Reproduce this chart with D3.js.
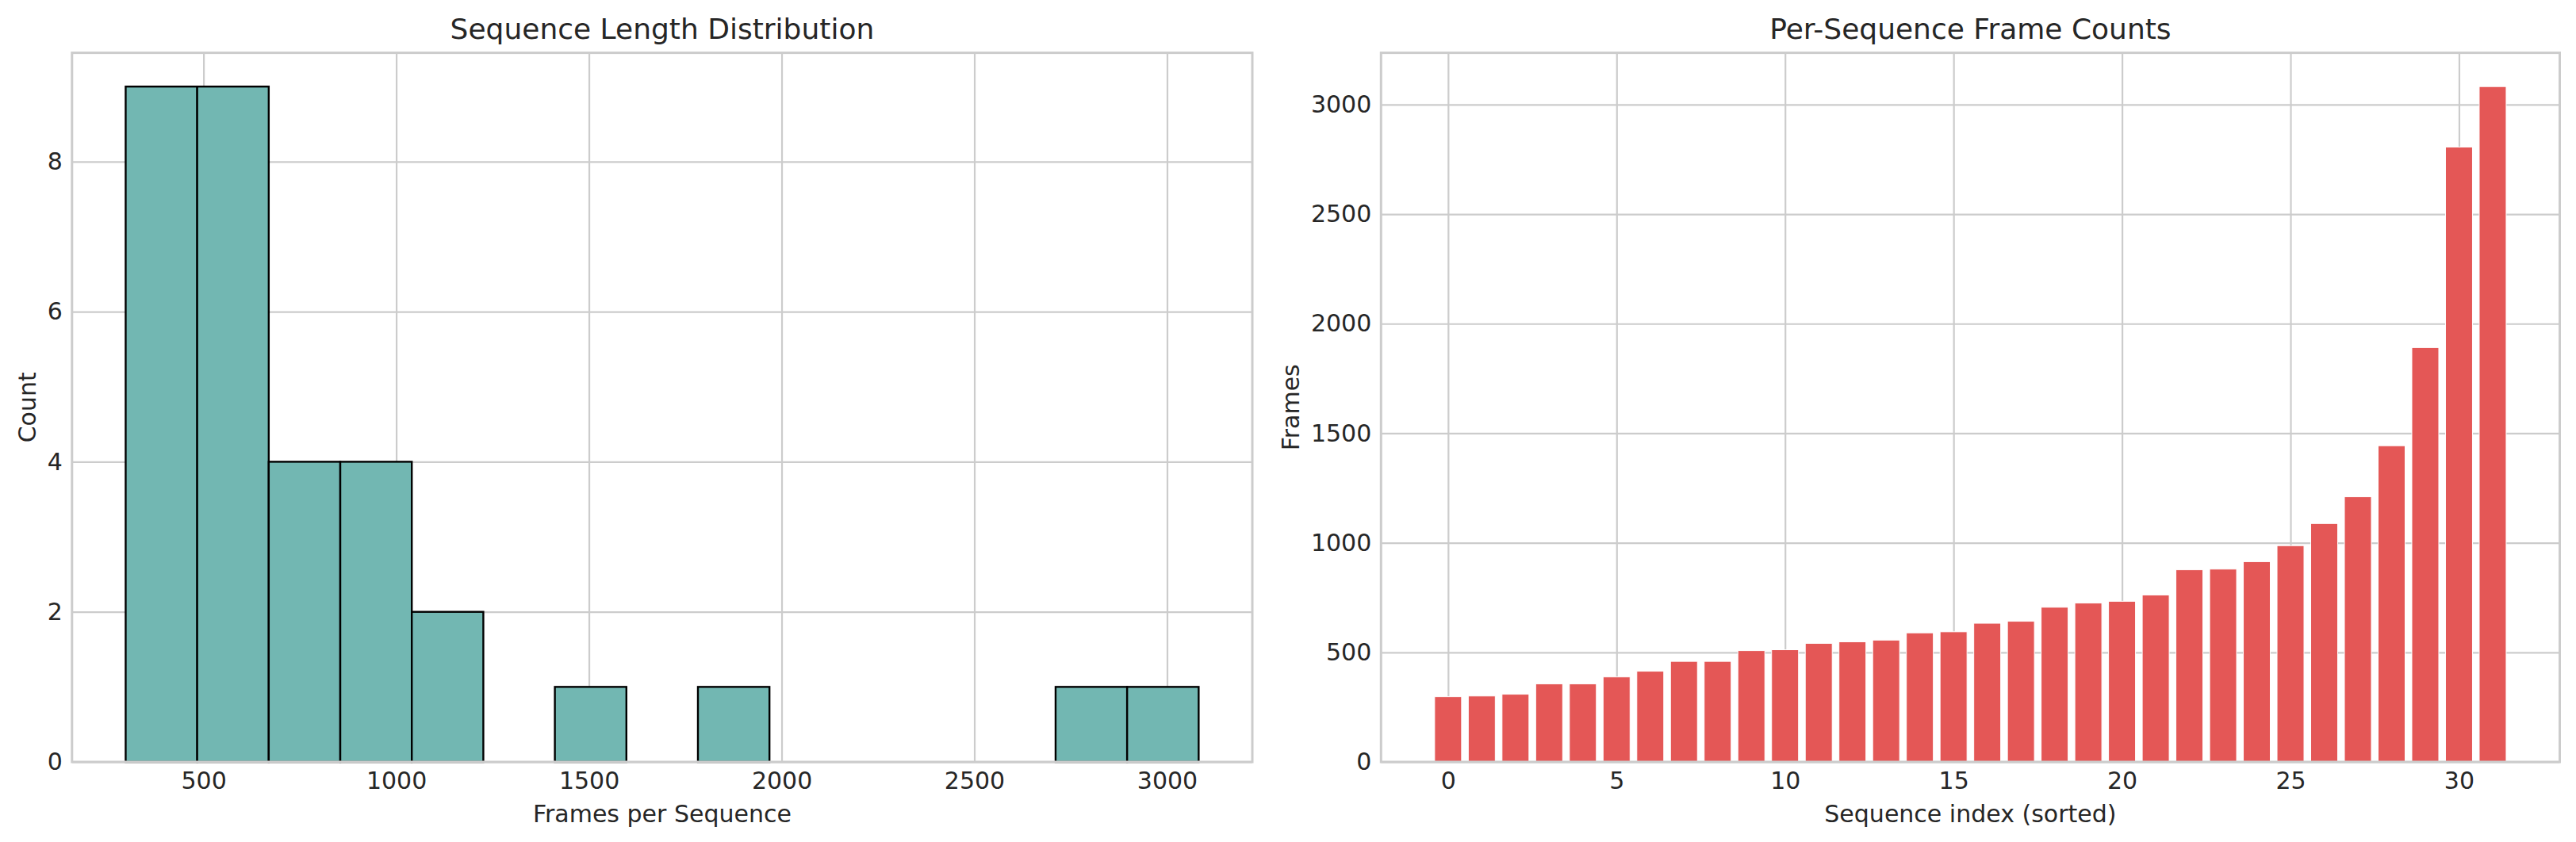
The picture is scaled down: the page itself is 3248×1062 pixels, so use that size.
<!DOCTYPE html>
<html>
<head>
<meta charset="utf-8">
<script src="https://cdn.jsdelivr.net/npm/d3@7"></script>
<style>
  body { margin: 0; background: #fff; }
  text { font-family: "DejaVu Sans", sans-serif; fill: #262626; }
</style>
</head>
<body>
<script>
// frames per sequence, already sorted
const frameCounts = [298, 301, 309, 356, 356, 388, 414, 459, 459, 508, 512, 541, 548, 556, 589, 594,
                     633, 642, 706, 725, 733, 762, 877, 880, 914, 987, 1088, 1210, 1443, 1891, 2806, 3082];
const histBinCount = 15;
const histXTicks = [500, 1000, 1500, 2000, 2500, 3000];
const histYTicks = [0, 2, 4, 6, 8];
const barXTicks = [0, 5, 10, 15, 20, 25, 30];
const barYTicks = [0, 500, 1000, 1500, 2000, 2500, 3000];

(()=>{
    const width = 3248;
    const height = 1062;
    const top = 66.6, bottom = 961;
    const left1 = 90.8, right1 = 1579;
    const left2 = 1741.3, right2 = 3227.5;
    const gridColor = "#cccccc";
    const fmt = d3.format("d");

    const svg = d3.select("body").append("svg")
        .attr("width", width)
        .attr("height", height)
        .attr("viewBox", [0, 0, width, height]);

    svg.append("rect").attr("width", width).attr("height", height).attr("fill", "#fff");

    // shared helpers
    const grid = (g, ax, ticks, len) => {
        g.call(ax.tickValues(ticks).tickSize(-len).tickFormat(""));
        g.select(".domain").remove();
        g.selectAll(".tick line").attr("stroke", gridColor).attr("stroke-width", 2.2);
    };
    const labels = (g, ax) => {
        g.call(ax.tickSize(0).tickFormat(fmt));
        g.select(".domain").remove();
        g.selectAll("text").attr("font-size", 30).attr("font-family", "DejaVu Sans").attr("fill", "#262626");
    };
    const frame = (l, r) => {
        svg.append("rect")
            .attr("x", l).attr("y", top)
            .attr("width", r - l).attr("height", bottom - top)
            .attr("fill", "none").attr("stroke", gridColor).attr("stroke-width", 3);
    };
    const title = (txt, l, r) => {
        svg.append("text").attr("x", (l + r) / 2).attr("y", 49.3)
            .attr("text-anchor", "middle").attr("font-size", 36).text(txt);
    };
    const xlabel = (txt, l, r) => {
        svg.append("text").attr("x", (l + r) / 2).attr("y", 1037)
            .attr("text-anchor", "middle").attr("font-size", 30).text(txt);
    };
    const ylabel = (txt, xpos) => {
        svg.append("text").attr("transform", `translate(${xpos},${(top + bottom) / 2}) rotate(-90)`)
            .attr("text-anchor", "middle").attr("font-size", 30).text(txt);
    };

    // ---- left: histogram ----
    const mn = d3.min(frameCounts), mx = d3.max(frameCounts);
    const step = (mx - mn) / histBinCount;
    const bins = d3.bin()
        .domain([mn, mx])
        .thresholds(d3.range(1, histBinCount).map(i => mn + i * step))(frameCounts);

    const pad1 = (mx - mn) * 0.05;
    const x1 = d3.scaleLinear().domain([mn - pad1, mx + pad1]).range([left1, right1]);
    const y1 = d3.scaleLinear().domain([0, d3.max(bins, b => b.length) * 1.05]).range([bottom, top]);

    grid(svg.append("g").attr("transform", `translate(0,${bottom})`), d3.axisBottom(x1), histXTicks, bottom - top);
    grid(svg.append("g").attr("transform", `translate(${left1},0)`), d3.axisLeft(y1), histYTicks, right1 - left1);

    svg.append("g")
        .selectAll("rect")
        .data(bins.filter(b => b.length > 0))
        .join("rect")
        .attr("x", d => x1(d.x0))
        .attr("y", d => y1(d.length))
        .attr("width", d => x1(d.x1) - x1(d.x0))
        .attr("height", d => y1(0) - y1(d.length))
        .attr("fill", "#72b7b2")
        .attr("stroke", "#000")
        .attr("stroke-width", 2.4);

    frame(left1, right1);
    labels(svg.append("g").attr("transform", `translate(0,${bottom})`),
        d3.axisBottom(x1).tickValues(histXTicks).tickPadding(13));
    labels(svg.append("g").attr("transform", `translate(${left1},0)`),
        d3.axisLeft(y1).tickValues(histYTicks).tickPadding(12));
    title("Sequence Length Distribution", left1, right1);
    xlabel("Frames per Sequence", left1, right1);
    ylabel("Count", 45);

    // ---- right: sorted per-sequence bars ----
    const n = frameCounts.length;
    const bw = 0.8;
    const spanPad = (n - 1 + bw) * 0.05;
    const x2 = d3.scaleLinear().domain([-bw / 2 - spanPad, n - 1 + bw / 2 + spanPad]).range([left2, right2]);
    const y2 = d3.scaleLinear().domain([0, mx * 1.05]).range([bottom, top]);

    grid(svg.append("g").attr("transform", `translate(0,${bottom})`), d3.axisBottom(x2), barXTicks, bottom - top);
    grid(svg.append("g").attr("transform", `translate(${left2},0)`), d3.axisLeft(y2), barYTicks, right2 - left2);

    svg.append("g")
        .selectAll("rect")
        .data(frameCounts)
        .join("rect")
        .attr("x", (d, i) => x2(i - bw / 2))
        .attr("y", d => y2(d))
        .attr("width", x2(bw) - x2(0))
        .attr("height", d => y2(0) - y2(d))
        .attr("fill", "#e45756")
        .attr("stroke", "#fff")
        .attr("stroke-width", 1);

    frame(left2, right2);
    labels(svg.append("g").attr("transform", `translate(0,${bottom})`),
        d3.axisBottom(x2).tickValues(barXTicks).tickPadding(13));
    labels(svg.append("g").attr("transform", `translate(${left2},0)`),
        d3.axisLeft(y2).tickValues(barYTicks).tickPadding(12));
    title("Per-Sequence Frame Counts", left2, right2);
    xlabel("Sequence index (sorted)", left2, right2);
    ylabel("Frames", 1638);
})()
</script>
</body>
</html>
